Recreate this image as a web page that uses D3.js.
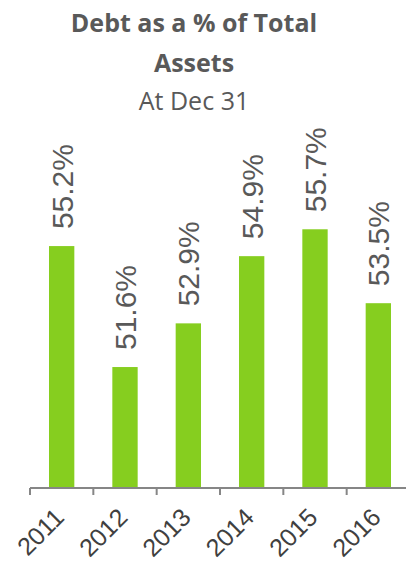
<!DOCTYPE html>
<html>
<head>
<meta charset="utf-8">
<script src="https://cdn.jsdelivr.net/npm/d3@7"></script>
<style>
  body { margin: 0; background: #fff; }
</style>
</head>
<body>
<div class="content"></div>
<script>
// Data
var years = ["2011", "2012", "2013", "2014", "2015", "2016"];
var debtPct = [55.2, 51.6, 52.9, 54.9, 55.7, 53.5];

var svgWidth = 406;
var svgHeight = 562;

var svg = d3.select(".content")
  .append("svg")
  .attr("width", svgWidth)
  .attr("height", svgHeight);

// Title
var titleFont = "'Open Sans', Lato, sans-serif";

svg.append("text")
  .attr("x", 194)
  .attr("y", 32)
  .attr("text-anchor", "middle")
  .style("font-family", titleFont)
  .style("font-weight", "bold")
  .style("font-size", "25px")
  .attr("fill", "#595959")
  .text("Debt as a % of Total");

svg.append("text")
  .attr("x", 194)
  .attr("y", 72)
  .attr("text-anchor", "middle")
  .style("font-family", titleFont)
  .style("font-weight", "bold")
  .style("font-size", "25px")
  .attr("fill", "#595959")
  .text("Assets");

svg.append("text")
  .attr("x", 194)
  .attr("y", 110)
  .attr("text-anchor", "middle")
  .style("font-family", titleFont)
  .style("font-size", "25px")
  .attr("fill", "#595959")
  .text("At Dec 31");

// scales
var baseY = 488;

var xBandScale = d3.scaleBand()
  .domain(years)
  .range([30, 410])
  .paddingInner(0.6)
  .paddingOuter(0.3);

var yLinearScale = d3.scaleLinear()
  .domain([48, 60])
  .range([baseY, baseY - 12 * 33.6]);

// bars
svg.selectAll("rect.bar")
  .data(debtPct)
  .enter()
  .append("rect")
  .attr("class", "bar")
  .attr("x", (d, i) => xBandScale(years[i]))
  .attr("width", xBandScale.bandwidth())
  .attr("y", d => yLinearScale(d))
  .attr("height", d => baseY - yLinearScale(d))
  .attr("fill", "#86CE1F");

// value labels (rotated)
svg.selectAll("text.value")
  .data(debtPct)
  .enter()
  .append("text")
  .attr("class", "value")
  .attr("transform", (d, i) => {
    var cx = xBandScale(years[i]) + xBandScale.bandwidth() / 2 + 11;
    var cy = yLinearScale(d) - 17;
    return `translate(${cx}, ${cy}) rotate(-90)`;
  })
  .style("font-family", "'Liberation Sans', Arial, sans-serif")
  .style("font-size", "30px")
  .attr("fill", "#595959")
  .text(d => d.toFixed(1) + "%");

// x axis with ticks at category boundaries
var step = xBandScale.step();
var tickX = years.map((y, i) => 30 + i * step);

svg.append("line")
  .attr("x1", 30)
  .attr("x2", 406)
  .attr("y1", baseY)
  .attr("y2", baseY)
  .attr("stroke", "#868686")
  .attr("stroke-width", 2);

svg.selectAll("line.tick")
  .data(tickX)
  .enter()
  .append("line")
  .attr("class", "tick")
  .attr("x1", d => d)
  .attr("x2", d => d)
  .attr("y1", baseY)
  .attr("y2", baseY + 7)
  .attr("stroke", "#868686")
  .attr("stroke-width", 2);

// x labels rotated -45
svg.selectAll("text.year")
  .data(years)
  .enter()
  .append("text")
  .attr("class", "year")
  .attr("text-anchor", "end")
  .attr("transform", d => {
    var cx = xBandScale(d) + xBandScale.bandwidth() / 2 + 4;
    return `translate(${cx}, 519) rotate(-45)`;
  })
  .style("font-family", "'Liberation Sans', Arial, sans-serif")
  .style("font-size", "25px")
  .attr("fill", "#404040")
  .text(d => d);
</script>
</body>
</html>
